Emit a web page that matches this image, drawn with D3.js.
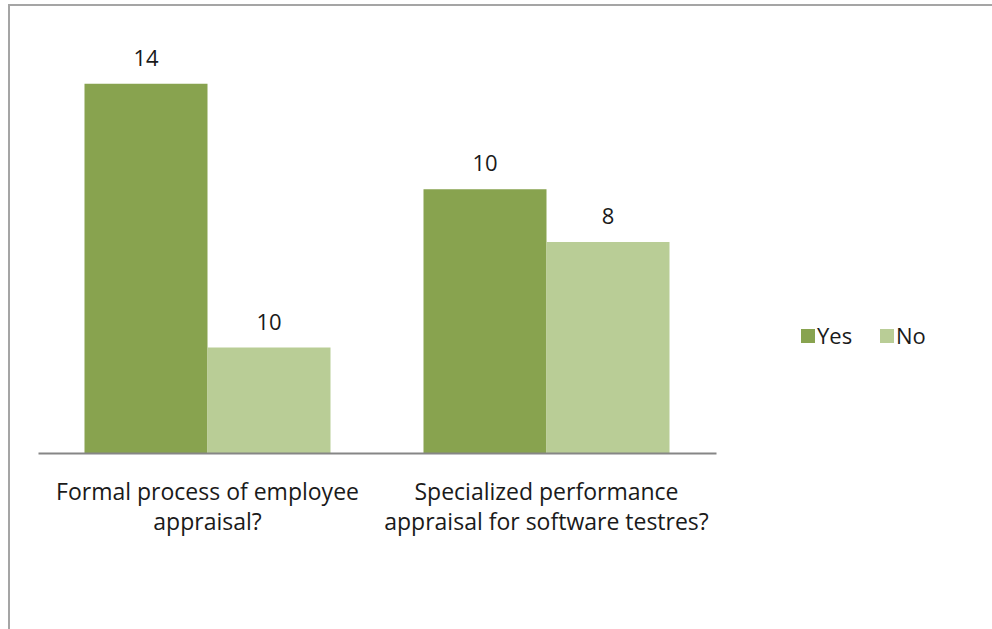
<!DOCTYPE html>
<html>
<head>
<meta charset="utf-8">
<script src="https://cdn.jsdelivr.net/npm/d3@7"></script>
<style>
	body { margin: 0; background: #fff; }
	svg { display: block; }
	text { font-family: "Open Sans", sans-serif; fill: #1a1a1a; }
</style>
</head>
<body>
<svg id="chart"></svg>
<script>
var categories = ["Formal process of employee appraisal?", "Specialized performance appraisal for software testres?"];
var seriesNames = ["Yes", "No"];
// bar heights as drawn
var yesValues = [14, 10];
var noValues = [4, 8];
// labels printed above the bars (the first "No" label does not match its bar)
var yesLabels = ["14", "10"];
var noLabels = ["10", "8"];
var colors = ["#88a34f", "#b9cd96"];

window.onload = function() {

	var svgDims = {width: 992, height: 629};
	var plot = {left: 38, right: 716, base: 453, top: 31};

	var svg = d3.select("#chart")
		.attr("width", svgDims.width)
		.attr("height", svgDims.height);

	// outer frame (only top and left edges show in the picture)
	svg.append("rect")
		.attr("x", 9).attr("y", 5)
		.attr("width", 1000).attr("height", 700)
		.attr("fill", "none")
		.attr("stroke", "#a5a5a5")
		.attr("stroke-width", 2);

	var data = categories.map(function(c, i) {
		return {cat: c, values: [yesValues[i], noValues[i]], labels: [yesLabels[i], noLabels[i]]};
	});

	var x = d3.scaleBand().domain(categories).range([plot.left, plot.right]).paddingInner(0).paddingOuter(0);
	var x1 = d3.scaleBand().domain(seriesNames).range([0, x.bandwidth()]).paddingOuter(0.378).paddingInner(0);
	var y = d3.scaleLinear().domain([0, 16]).range([plot.base, plot.top]);

	var groups = svg.append("g").selectAll(".grp")
		.data(data)
		.enter().append("g")
			.attr("class", "grp")
			.attr("transform", function(d) { return "translate(" + x(d.cat) + ",0)"; });

	var bars = function(d) {
		return d.values.map(function(v, i) { return {name: seriesNames[i], v: v, label: d.labels[i], i: i}; });
	};

	groups.selectAll("rect")
		.data(bars)
		.enter().append("rect")
			.attr("x", function(d) { return x1(d.name); })
			.attr("y", function(d) { return y(d.v); })
			.attr("width", x1.bandwidth())
			.attr("height", function(d) { return plot.base - y(d.v); })
			.attr("fill", function(d) { return colors[d.i]; });

	// value labels
	groups.selectAll(".val")
		.data(bars)
		.enter().append("text")
			.attr("class", "val")
			.attr("x", function(d) { return x1(d.name) + x1.bandwidth() / 2; })
			.attr("y", function(d) { return y(d.v) - 18; })
			.attr("text-anchor", "middle")
			.style("font-size", "22px")
			.text(function(d) { return d.label; });

	// x axis
	var xAxis = svg.append("g")
		.attr("transform", "translate(0," + plot.base + ")")
		.call(d3.axisBottom(x).tickSize(0).tickPadding(0));
	xAxis.select(".domain").attr("stroke", "#868686").attr("stroke-width", 2);
	xAxis.selectAll(".tick text").remove();

	var wrapWidth = 345;
	xAxis.selectAll(".tick").append("text")
		.attr("text-anchor", "middle")
		.style("font-size", "23px")
		.each(function(d) {
			var t = d3.select(this), words = d.split(" "), line = [], lines = [];
			var tmp = t.append("tspan");
			words.forEach(function(w) {
				line.push(w);
				tmp.text(line.join(" "));
				if (tmp.node().getComputedTextLength() > wrapWidth && line.length > 1) {
					line.pop();
					lines.push(line.join(" "));
					line = [w];
				}
			});
			lines.push(line.join(" "));
			tmp.remove();
			lines.forEach(function(l, i) {
				t.append("tspan").attr("x", 0).attr("y", 47 + i * 30).text(l);
			});
		});

	// legend
	var legend = svg.append("g").attr("transform", "translate(801,329)");
	var items = legend.selectAll(".item")
		.data(seriesNames)
		.enter().append("g")
			.attr("transform", function(d, i) { return "translate(" + (i * 79) + ",0)"; });
	items.append("rect")
		.attr("width", 14).attr("height", 14)
		.attr("fill", function(d, i) { return colors[i]; });
	items.append("text")
		.attr("x", 16).attr("y", 15)
		.style("font-size", "22px")
		.text(function(d) { return d; });
}
</script>
</body>
</html>
